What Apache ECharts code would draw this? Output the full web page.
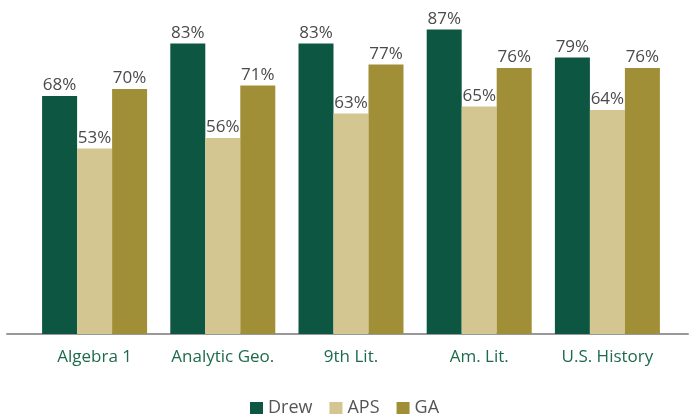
<!DOCTYPE html>
<html>
<head>
<meta charset="utf-8">
<script src="https://cdn.jsdelivr.net/npm/echarts@6/dist/echarts.min.js"></script>
<style>
  html, body { margin: 0; padding: 0; background: #fff; }
  #chart { width: 689px; height: 419px; }
</style>
</head>
<body>
<div id="chart"></div>
<script>
// data
const categories = ['Algebra 1', 'Analytic Geo.', '9th Lit.', 'Am. Lit.', 'U.S. History'];
const drew = [68, 83, 83, 87, 79];
const aps = [53, 56, 63, 65, 64];
const ga = [70, 71, 77, 76, 76];

const FONT = '"Open Sans", Lato, sans-serif';

const dom = document.getElementById('chart');
const myEchart = echarts.init(dom, null, { renderer: 'canvas' });

const label = {
  show: true,
  position: 'top',
  distance: 2,
  color: '#4a4a4a',
  fontFamily: FONT,
  fontSize: 17,
  formatter: '{c}%'
};

const option = {
  animation: false,
  backgroundColor: '#fff',
  legend: {
    bottom: -3,
    left: 'center',
    icon: 'rect',
    itemWidth: 13,
    itemHeight: 12,
    itemGap: 17,
    textStyle: { color: '#555', fontFamily: FONT, fontSize: 18, padding: [0, 0, 0, 0] },
    data: ['Drew', 'APS', 'GA']
  },
  grid: [
    { left: 30.5, right: 17.5, top: 19, bottom: 85 },
    // wide grid only for the long base line
    { left: 7, right: 1, top: 19, bottom: 85 }
  ],
  xAxis: [
    {
      type: 'category',
      gridIndex: 0,
      data: categories,
      axisLine: { show: false },
      axisTick: { show: false },
      axisLabel: {
        interval: 0,
        hideOverlap: false,
        color: '#1d6b4c',
        fontFamily: FONT,
        fontSize: 17,
        margin: 15
      }
    },
    {
      type: 'value',
      gridIndex: 1,
      min: 0,
      max: 1,
      axisLine: { show: true, onZero: false, lineStyle: { color: '#999', width: 2 } },
      axisTick: { show: false },
      axisLabel: { show: false },
      splitLine: { show: false }
    }
  ],
  yAxis: [
    { type: 'value', gridIndex: 0, min: 0, max: 90, show: false },
    { type: 'value', gridIndex: 1, min: 0, max: 90, show: false }
  ],
  series: [
    {
      name: 'Drew', type: 'bar', data: drew, barWidth: 35, barGap: '0%',
      itemStyle: { color: '#0d5641' }, label: label
    },
    {
      name: 'APS', type: 'bar', data: aps, barWidth: 35, barGap: '0%',
      itemStyle: { color: '#d3c691' }, label: label
    },
    {
      name: 'GA', type: 'bar', data: ga, barWidth: 35, barGap: '0%',
      itemStyle: { color: '#a08f37' }, label: label
    }
  ]
};

myEchart.setOption(option, true);
</script>
</body>
</html>
